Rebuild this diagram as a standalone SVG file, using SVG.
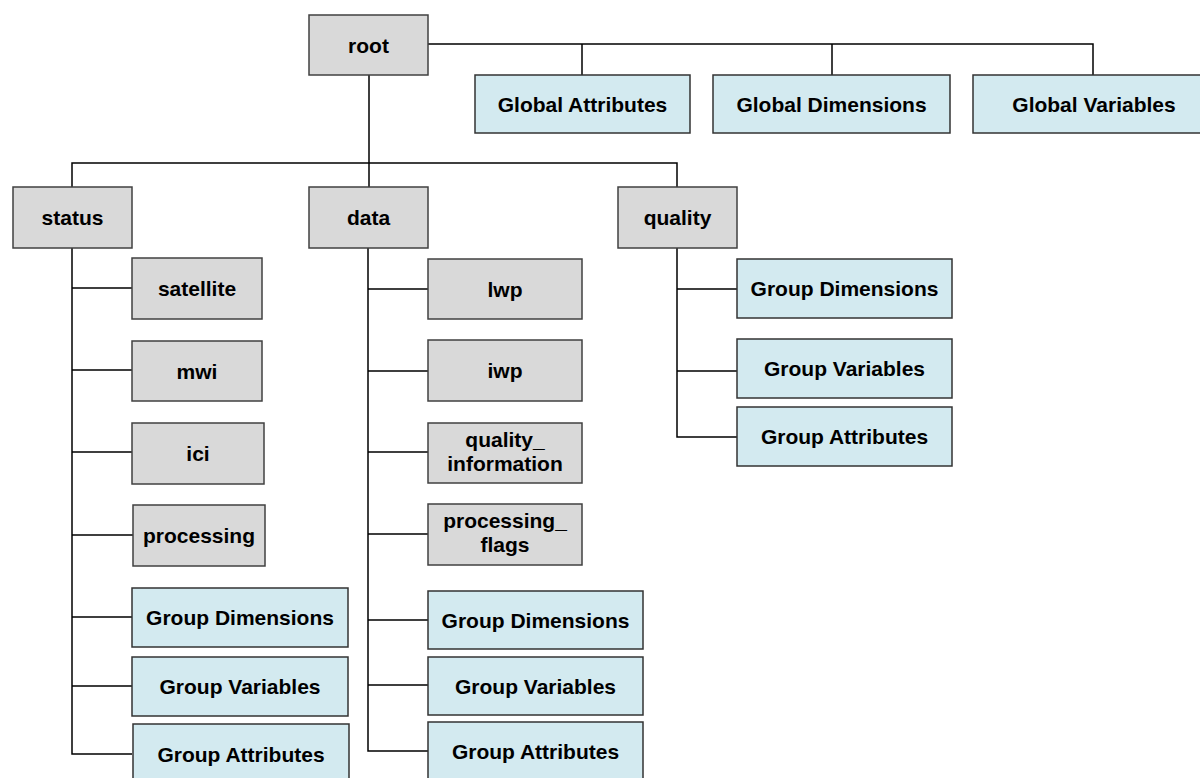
<svg xmlns="http://www.w3.org/2000/svg" width="1200" height="778" viewBox="0 0 1200 778">
<style>
.g rect{fill:#d9d9d9;stroke:#404040;stroke-width:1.5}
.b rect{fill:#d3eaf0;stroke:#333;stroke-width:1.5}
text{font-family:"Liberation Sans",Arial,sans-serif;font-weight:bold;font-size:21px;fill:#000;text-anchor:middle}
#connectors path{fill:none;stroke:#000;stroke-width:1.5}
</style>
<rect width="1200" height="778" fill="#fff"/>
<g id="connectors">
<path d="M428,44 H1093 V75 M582,44 V75 M832,44 V75"/>
<path d="M369,75 V163 M72,187 V163 H677 V187 M369,163 V187"/>
<path d="M72,248 V754 H132 M72,288 H132 M72,370 H132 M72,452 H132 M72,535 H133 M72,617 H132 M72,686 H132"/>
<path d="M368,248 V751 H428 M368,289 H428 M368,371 H428 M368,452 H428 M368,534 H428 M368,620 H428 M368,685 H428"/>
<path d="M677,248 V437 H737 M677,289 H737 M677,371 H737"/>
</g>
<g id="root" class="g"><rect x="309" y="15" width="119" height="60"/><text x="368.5" y="52.5">root</text></g>
<g id="global-attributes" class="b"><rect x="475" y="75" width="215" height="58"/><text x="582.5" y="111.5">Global Attributes</text></g>
<g id="global-dimensions" class="b"><rect x="713" y="75" width="237" height="58"/><text x="831.5" y="111.5">Global Dimensions</text></g>
<g id="global-variables" class="b"><rect x="973" y="75" width="240" height="58"/><text x="1094" y="111.5">Global Variables</text></g>
<g id="status" class="g"><rect x="13" y="187" width="119" height="61"/><text x="72.5" y="225">status</text></g>
<g id="data" class="g"><rect x="309" y="187" width="119" height="61"/><text x="368.5" y="225">data</text></g>
<g id="quality" class="g"><rect x="618" y="187" width="119" height="61"/><text x="677.5" y="225">quality</text></g>
<g id="satellite" class="g"><rect x="132" y="258" width="130" height="61"/><text x="197" y="296">satellite</text></g>
<g id="mwi" class="g"><rect x="132" y="341" width="130" height="60"/><text x="197" y="378.5">mwi</text></g>
<g id="ici" class="g"><rect x="132" y="423" width="132" height="61"/><text x="198" y="461">ici</text></g>
<g id="processing" class="g"><rect x="133" y="505" width="132" height="61"/><text x="199" y="543">processing</text></g>
<g id="status-group-dimensions" class="b"><rect x="132" y="588" width="216" height="59"/><text x="240" y="625">Group Dimensions</text></g>
<g id="status-group-variables" class="b"><rect x="132" y="657" width="216" height="59"/><text x="240" y="694">Group Variables</text></g>
<g id="status-group-attributes" class="b"><rect x="133" y="724" width="216" height="70"/><text x="241" y="762">Group Attributes</text></g>
<g id="lwp" class="g"><rect x="428" y="259" width="154" height="60"/><text x="505" y="296.5">lwp</text></g>
<g id="iwp" class="g"><rect x="428" y="340" width="154" height="61"/><text x="505" y="378">iwp</text></g>
<g id="quality-information" class="g"><rect x="428" y="423" width="154" height="60"/><text x="505" y="446.5">quality_</text><text x="505" y="470.5">information</text></g>
<g id="processing-flags" class="g"><rect x="428" y="504" width="154" height="61"/><text x="505" y="528">processing_</text><text x="505" y="552">flags</text></g>
<g id="data-group-dimensions" class="b"><rect x="428" y="591" width="215" height="58"/><text x="535.5" y="627.5">Group Dimensions</text></g>
<g id="data-group-variables" class="b"><rect x="428" y="657" width="215" height="58"/><text x="535.5" y="693.5">Group Variables</text></g>
<g id="data-group-attributes" class="b"><rect x="428" y="722" width="215" height="70"/><text x="535.5" y="758.5">Group Attributes</text></g>
<g id="quality-group-dimensions" class="b"><rect x="737" y="259" width="215" height="59"/><text x="844.5" y="296">Group Dimensions</text></g>
<g id="quality-group-variables" class="b"><rect x="737" y="339" width="215" height="59"/><text x="844.5" y="376">Group Variables</text></g>
<g id="quality-group-attributes" class="b"><rect x="737" y="407" width="215" height="59"/><text x="844.5" y="444">Group Attributes</text></g>
</svg>
